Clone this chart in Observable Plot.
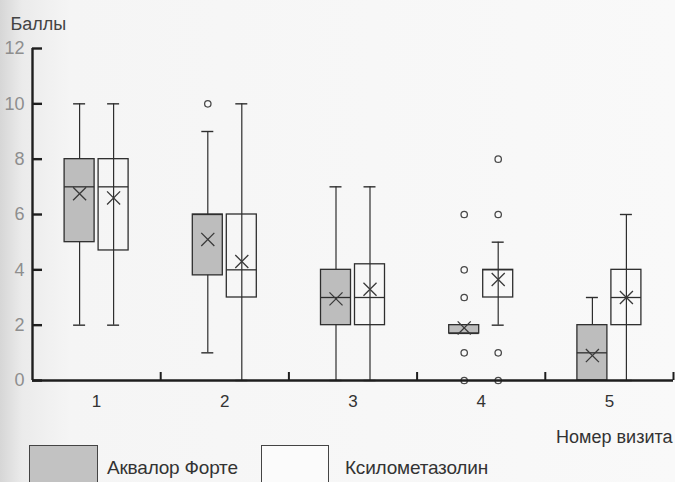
<!DOCTYPE html>
<html>
<head>
<meta charset="utf-8">
<script src="https://cdn.jsdelivr.net/npm/d3@7"></script>
<script src="https://cdn.jsdelivr.net/npm/@observablehq/plot@0.6"></script>
<style>
  html, body { margin: 0; padding: 0; }
  body {
    width: 675px; height: 482px; overflow: hidden;
    background: linear-gradient(to right, #d6d6d6 0px, #ebebeb 22px, #f5f5f5 70px, #f9f9f9 100%);
    font-family: "Liberation Sans", Arial, sans-serif;
  }
  #chart svg { display: block; background: transparent; }
  #legend { position: relative; height: 37px; margin-top: -7px; }
  .sw { position: absolute; top: 0; height: 40px; box-sizing: border-box; border: 1.3px solid #444; }
  .lt { position: absolute; top: 12px; font-size: 19px; color: #333; letter-spacing: -0.2px; }
</style>
</head>
<body>
<div id="chart"></div>
<div id="legend"></div>
<script>
// ---- data ----
const visits = [1, 2, 3, 4, 5];
const groups = ["Аквалор Форте", "Ксилометазолин"];

const akvLow    = [2,    1,   0,    1.7, 0];
const akvQ1     = [5,    3.8, 2,    1.7, 0];
const akvMedian = [7,    6,   3,    1.7, 1];
const akvQ3     = [8,    6,   4,    2,   2];
const akvHigh   = [10,   9,   7,    2,   3];
const akvMean   = [6.75, 5.1, 2.95, 1.9, 0.9];
const akvOut    = [[], [10], [], [6, 4, 3, 1, 0], []];

const ksiLow    = [2,    0,   0,    2,    0];
const ksiQ1     = [4.7,  3,   2,    3,    2];
const ksiMedian = [7,    4,   3,    4,    3];
const ksiQ3     = [8,    6,   4.2,  4,    4];
const ksiHigh   = [10,   10,  7,    5,    6];
const ksiMean   = [6.6,  4.3, 3.3,  3.65, 3];
const ksiOut    = [[], [], [], [8, 6, 1, 0], []];

const yTicks = [0, 2, 4, 6, 8, 10, 12];
const xLabels = ["1", "2", "3", "4", "5"];

// ---- layout helpers ----
const W = 675, H = 452;
const mL = 32, mR = 2, mT = 48, mB = 72;
const unit = (W - mL - mR) / 5;          // px per visit
const off = 17 / unit, half = 15 / unit, cap = 6 / unit;

const series = [
  {g: groups[0], low: akvLow, q1: akvQ1, med: akvMedian, q3: akvQ3, high: akvHigh, mean: akvMean, out: akvOut, sign: -1},
  {g: groups[1], low: ksiLow, q1: ksiQ1, med: ksiMedian, q3: ksiQ3, high: ksiHigh, mean: ksiMean, out: ksiOut, sign: +1}
];

const boxes = [];
const outliers = [];
for (const s of series) {
  visits.forEach((v, i) => {
    const c = v + s.sign * off;
    boxes.push({g: s.g, c, low: s.low[i], q1: s.q1[i], med: s.med[i], q3: s.q3[i], high: s.high[i], mean: s.mean[i]});
    for (const o of s.out[i]) outliers.push({g: s.g, c, y: o});
  });
}
const caps = boxes.flatMap(b => [
  ...(b.high > b.q3 ? [{c: b.c, y: b.high}] : []),
  ...(b.low < b.q1 ? [{c: b.c, y: b.low}] : [])
]);

const fillFor = g => g === groups[0] ? "#bdbdbd" : "none";
const ink = "#2e2e2e";

const plot = Plot.plot({
  width: W, height: H,
  marginLeft: mL, marginRight: mR, marginTop: mT, marginBottom: mB,
  style: {background: "transparent", fontFamily: "Liberation Sans, Arial, sans-serif", overflow: "visible"},
  x: {domain: [0.5, 5.5], axis: null, label: null},
  y: {domain: [0, 12], axis: null, label: null},
  marks: [
    // whiskers
    Plot.ruleX(boxes, {x: "c", y1: "low", y2: "high", stroke: ink, strokeWidth: 1.2}),
    Plot.ruleY(caps, {x1: d => d.c - cap, x2: d => d.c + cap, y: "y", stroke: ink, strokeWidth: 1.4}),
    // boxes
    Plot.rect(boxes, {x1: d => d.c - half, x2: d => d.c + half, y1: "q1", y2: "q3",
      fill: d => fillFor(d.g), stroke: ink, strokeWidth: 1.3}),
    // medians
    Plot.ruleY(boxes, {x1: d => d.c - half, x2: d => d.c + half, y: "med", stroke: ink, strokeWidth: 1.3}),
    // means
    Plot.dot(boxes, {x: "c", y: "mean", symbol: "times", r: 6, stroke: "#3a3a3a", strokeWidth: 1.3}),
    // outliers
    Plot.dot(outliers, {x: "c", y: "y", r: 3.2, fill: "#fafafa", stroke: "#4a4a4a", strokeWidth: 1.3}),
    // axis lines
    Plot.ruleY([0], {x1: 0.5, x2: 5.5, stroke: "#1e1e1e", strokeWidth: 2.4}),
    Plot.ruleX([0.5], {y1: 0, y2: 12, stroke: "#1e1e1e", strokeWidth: 2.4}),
    // x ticks (upward, at group boundaries)
    Plot.axisX({ticks: [1.5, 2.5, 3.5, 4.5, 5.5], tickSize: -8, tickFormat: () => "", stroke: "#1e1e1e", strokeWidth: 2, label: null}),
    // x labels
    Plot.axisX({ticks: visits, tickSize: 0, tickPadding: 14, tickFormat: (d, i) => xLabels[i], fontSize: 17, fill: "#333", label: null}),
    // y ticks (inward)
    Plot.axisY({ticks: yTicks, tickSize: -10, tickPadding: 18, tickFormat: d => String(d), fontSize: 18, fill: "#8e8e8e", stroke: "#1e1e1e", strokeWidth: 2.4, label: null}),
    // titles
    Plot.text(["Баллы"], {frameAnchor: "top-left", dx: -22, dy: -24, textAnchor: "start", lineAnchor: "middle", fontSize: 18, fill: "#444"}),
    Plot.text(["Номер визита"], {frameAnchor: "bottom-right", dx: -1, dy: 57, textAnchor: "end", lineAnchor: "middle", fontSize: 18, fill: "#333"})
  ]
});
document.getElementById("chart").appendChild(plot);

// legend
const lg = document.getElementById("legend");
const items = [
  {label: groups[0], fill: "#c2c2c2", sx: 29, sw: 69, tx: 107},
  {label: groups[1], fill: "#fbfbfb", sx: 261, sw: 68, tx: 345}
];
for (const it of items) {
  const s = document.createElement("div");
  s.className = "sw";
  s.style.left = it.sx + "px"; s.style.width = it.sw + "px"; s.style.background = it.fill;
  lg.appendChild(s);
  const t = document.createElement("div");
  t.className = "lt"; t.style.left = it.tx + "px"; t.textContent = it.label;
  lg.appendChild(t);
}
</script>
</body>
</html>
